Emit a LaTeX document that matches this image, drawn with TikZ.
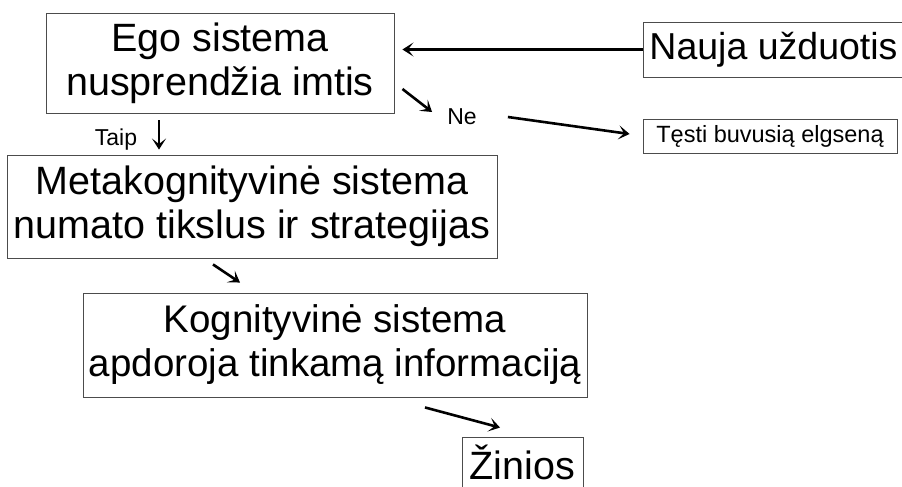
\documentclass[tikz,border=0pt]{standalone}
\usepackage{fontspec}
\setmainfont{Liberation Sans}
\usetikzlibrary{arrows.meta, calc}
\newcommand{\bigtxt}{\fontsize{39.5}{44}\selectfont}
\newcommand{\midtxt}{\fontsize{23.5}{28}\selectfont}
\newcommand{\smalltxt}{\fontsize{23}{27}\selectfont}

\begin{document}
\begin{tikzpicture}[x=1pt, y=-1pt, >={Stealth[length=11pt, width=14pt, inset=5.5pt]},
    box/.style={draw=black!70, line width=0.9pt, inner sep=0pt, align=center, font=\bigtxt},
    lbl/.style={inner sep=0pt, font=\smalltxt},
    flow/.style={->, line width=2.6pt}]
    \useasboundingbox (0,0) rectangle (902,487);
    \node[box, minimum width=348pt, minimum height=100pt] (ego) at (220,63) {Ego sistema\\nusprendžia imtis};
    \node[box, font=\fontsize{37.5}{44}\selectfont, minimum width=261pt, minimum height=55pt] (nauja) at (773.5,49.5) {Nauja užduotis};
    \node[box, font=\midtxt, minimum width=254pt, minimum height=34pt] (testi) at (770,136) {Tęsti buvusią elgseną};
    \node[lbl] (ne) at (462,117) {Ne};
    \node[lbl] (taip) at (116,140) {Taip};
    \node[box, minimum width=490pt, minimum height=103pt] (meta) at (252,206.5) {Metakognityvinė sistema\\numato tikslus ir strategijas};
    \node[box, font=\fontsize{38.5}{44}\selectfont, minimum width=504pt, minimum height=104pt] (kogn) at (335,345) {Kognityvinė sistema\\apdoroja tinkamą informaciją};
    \node[box, minimum width=121pt, minimum height=51pt] (zinios) at (522.5,462.5) {Žinios};
    % connectors
    \draw[flow, shorten >=8pt] (nauja.west) -- (nauja.west -| ego.east);
    \draw[flow] ($(ego.east)+(8,26)$) -- ($(ne.west)+(-15,-5)$);
    \draw[flow] ($(ne.east)+(31,0)$) -- ($(testi.west)+(-13,-2)$);
    \draw[flow] ($(ego.south)+(-61,7)$) -- ($(meta.north)+(-93,-5)$);
    \draw[flow] ($(meta.south)+(-39,6)$) -- ($(kogn.north)+(-95,-10)$);
    \draw[flow] ($(kogn.south)+(90,10)$) -- ($(zinios.north)+(-22.5,-9)$);
\end{tikzpicture}
\end{document}
